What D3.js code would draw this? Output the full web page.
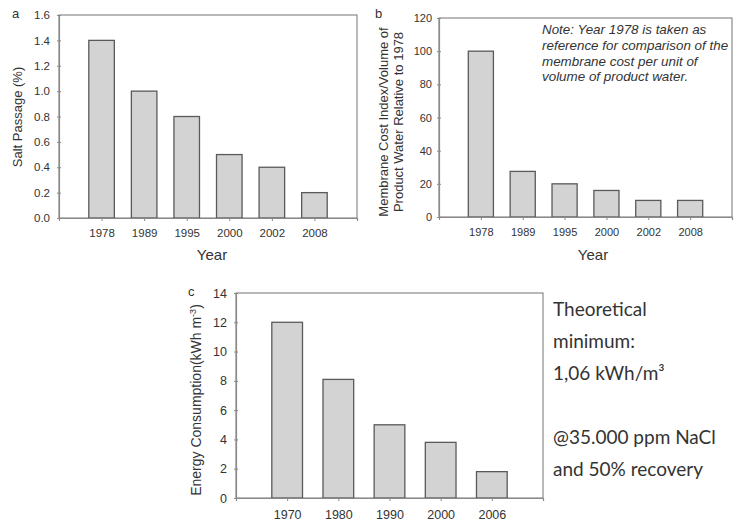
<!DOCTYPE html>
<html>
<head>
<meta charset="utf-8">
<script src="https://cdn.jsdelivr.net/npm/d3@7"></script>
<style>
  html, body { margin: 0; padding: 0; background: #fff; }
  svg { display: block; }
  text { font-family: "Liberation Sans", Arial, sans-serif; fill: #333; }
</style>
</head>
<body>
<svg id="chart" width="745" height="529"></svg>
<script>
// Panel a: salt passage of RO membranes
const yearsA = ["1978", "1989", "1995", "2000", "2002", "2008"];
const saltPassage = [1.4, 1.0, 0.8, 0.5, 0.4, 0.2];
const ticksA = [0, 0.2, 0.4, 0.6, 0.8, 1.0, 1.2, 1.4, 1.6];

// Panel b: membrane cost index per unit volume of product water (1978 = 100)
const yearsB = ["1978", "1989", "1995", "2000", "2002", "2008"];
const membraneCost = [100, 27.5, 20, 16, 10, 10];
const ticksB = [0, 20, 40, 60, 80, 100, 120];
const noteLines = [
  "Note: Year 1978 is taken as",
  "reference for comparison of the",
  "membrane cost per unit of",
  "volume of product water."
];

// Panel c: energy consumption of seawater RO
const yearsC = ["1970", "1980", "1990", "2000", "2006"];
const energyUse = [12, 8.1, 5, 3.8, 1.8];
const ticksC = [0, 2, 4, 6, 8, 10, 12, 14];
const sideNote = [
  "Theoretical",
  "minimum:",
  "1,06 kWh/m\u00B3",
  "",
  "@35.000 ppm NaCl",
  "and 50% recovery"
];

const svg = d3.select("#chart");
const AXIS = "#8a8a8a";
const BAR_FILL = "#d3d3d3";
const BAR_STROKE = "#5a5a5a";

function panel(opt) {
  const g = svg.append("g");
  const { x0, x1, y0, y1 } = opt;
  const n = opt.cats.length;
  // categories sit at 1..n on a domain padded by one slot each side
  const x = d3.scaleLinear().domain([0, n + 1]).range([x0, x1]);
  const y = d3.scaleLinear().domain([0, opt.max]).range([y1, y0]);
  const step = x(1) - x(0);
  const bw = step * 0.6;

  // frame
  g.append("rect")
    .attr("x", x0).attr("y", y0)
    .attr("width", x1 - x0).attr("height", y1 - y0)
    .attr("fill", "none").attr("stroke", AXIS).attr("stroke-width", 1.2);

  // bars
  g.selectAll("rect.bar").data(opt.values).join("rect")
    .attr("class", "bar")
    .attr("x", (d, i) => x(i + 1) - bw / 2)
    .attr("y", d => y(d))
    .attr("width", bw)
    .attr("height", d => y(0) - y(d))
    .attr("fill", BAR_FILL)
    .attr("stroke", BAR_STROKE)
    .attr("stroke-width", 1.3);

  // y axis
  const ya = g.append("g").attr("transform", `translate(${x0},0)`)
    .call(d3.axisLeft(y).tickValues(opt.yticks).tickFormat(opt.fmt)
      .tickSize(2).tickPadding(opt.ypad));
  ya.select(".domain").attr("stroke", AXIS).attr("stroke-width", 1.2);
  ya.selectAll(".tick line").attr("x1", 2).attr("x2", -2).attr("stroke", AXIS);
  ya.selectAll(".tick text")
    .style("font-size", opt.tickFont + "px")
    .style("font-family", "Liberation Sans, Arial, sans-serif")
    .attr("fill", "#333");

  // x axis
  const xa = g.append("g").attr("transform", `translate(0,${y1})`)
    .call(d3.axisBottom(x).tickValues(d3.range(1, n + 1))
      .tickFormat(i => opt.cats[i - 1]).tickSize(3).tickPadding(opt.xpad));
  xa.select(".domain").attr("stroke", AXIS).attr("stroke-width", 1.2);
  xa.selectAll(".tick line").attr("stroke", AXIS);
  xa.selectAll(".tick text")
    .style("font-size", opt.tickFont + "px")
    .style("font-family", "Liberation Sans, Arial, sans-serif")
    .attr("fill", "#333");

  // panel letter
  g.append("text").attr("x", opt.letterX).attr("y", opt.letterY)
    .style("font-size", "13px").text(opt.letter);

  return { g, x, y };
}

// ---- panel a ----
const pa = panel({
  x0: 59, x1: 357, y0: 15, y1: 218,
  cats: yearsA, values: saltPassage, max: 1.6, yticks: ticksA,
  fmt: d3.format(".1f"), tickFont: 11.5, ypad: 7, xpad: 8,
  letter: "a", letterX: 12, letterY: 18
});
pa.g.append("text").attr("x", 212).attr("y", 260)
  .attr("text-anchor", "middle").style("font-size", "15px").text("Year");
pa.g.append("text")
  .attr("transform", "translate(22,117) rotate(-90)")
  .attr("text-anchor", "middle").style("font-size", "13px")
  .text("Salt Passage (%)");

// ---- panel b ----
const pb = panel({
  x0: 439, x1: 732, y0: 18, y1: 217,
  cats: yearsB, values: membraneCost, max: 120, yticks: ticksB,
  fmt: d3.format("d"), tickFont: 11, ypad: 5, xpad: 8,
  letter: "b", letterX: 375, letterY: 18
});
pb.g.append("text").attr("x", 593).attr("y", 260)
  .attr("text-anchor", "middle").style("font-size", "15px").text("Year");
const bl = pb.g.append("text")
  .attr("transform", "translate(0,122) rotate(-90)")
  .attr("text-anchor", "middle").style("font-size", "13px");
bl.append("tspan").attr("x", 0).attr("y", 388).text("Membrane Cost Index/Volume of");
bl.append("tspan").attr("x", 0).attr("y", 403).text("Product Water Relative to 1978");
pb.g.append("g").selectAll("text").data(noteLines).join("text")
  .attr("x", 542).attr("y", (d, i) => 34 + i * 15.8)
  .style("font-size", "13.4px").style("font-style", "italic")
  .attr("fill", "#262626")
  .text(d => d);

// ---- panel c ----
const pc = panel({
  x0: 236, x1: 543, y0: 293, y1: 498,
  cats: yearsC, values: energyUse, max: 14, yticks: ticksC,
  fmt: d3.format("d"), tickFont: 12.5, ypad: 7, xpad: 9,
  letter: "c", letterX: 188, letterY: 296
});
const cl = pc.g.append("text")
  .attr("transform", "translate(201,400) rotate(-90)")
  .attr("text-anchor", "middle").style("font-size", "14px");
cl.append("tspan").text("Energy Consumption(kWh m");
cl.append("tspan").attr("dy", -5).style("font-size", "9px").text("-3");
cl.append("tspan").attr("dy", 5).text(")");

svg.append("g").selectAll("text").data(sideNote).join("text")
  .attr("x", 553).attr("y", (d, i) => 316 + i * 32)
  .style("font-family", "Lato, 'Open Sans', sans-serif")
  .style("font-size", "19px")
  .attr("fill", "#2b2b2b")
  .text(d => d);
</script>
</body>
</html>
